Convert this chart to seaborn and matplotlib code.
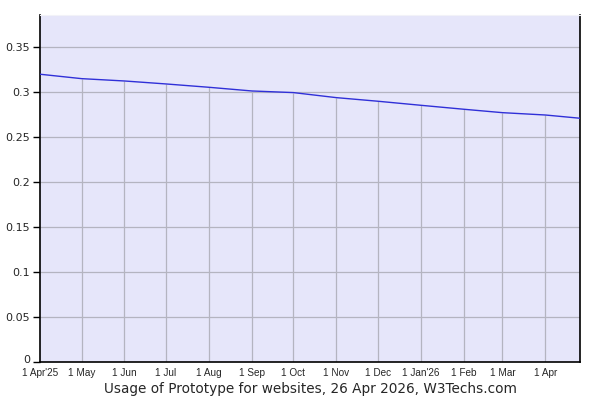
import matplotlib
matplotlib.use("Agg")
import matplotlib.pyplot as plt
import matplotlib.ticker as mticker
import matplotlib.transforms as mtransforms
import pandas as pd
import seaborn as sns

# data (monthly points + last day)
dates = ["2025-04-01", "2025-05-01", "2025-06-01", "2025-07-01", "2025-08-01",
         "2025-09-01", "2025-10-01", "2025-11-01", "2025-12-01", "2026-01-01",
         "2026-02-01", "2026-03-01", "2026-04-01", "2026-04-26"]
usage = [0.3197, 0.3148, 0.3122, 0.3089, 0.3052, 0.3011, 0.2993, 0.2937,
         0.2897, 0.2852, 0.2808, 0.2770, 0.2744, 0.2708]

tick_dates = dates[:-1]
tick_labels = ["1 Apr'25", "1 May", "1 Jun", "1 Jul", "1 Aug", "1 Sep", "1 Oct",
               "1 Nov", "1 Dec", "1 Jan'26", "1 Feb", "1 Mar", "1 Apr"]
y_ticks = [0, 0.05, 0.1, 0.15, 0.2, 0.25, 0.3, 0.35]

df = pd.DataFrame({"date": pd.to_datetime(dates), "usage": usage})

sns.set_style("white")
plt.rcParams["font.family"] = ["DejaVu Sans"]

fig = plt.figure(figsize=(6, 4), dpi=100)
ax = fig.add_axes([40 / 600, 1 - 362 / 400, 540 / 600, 347 / 400])
ax.set_facecolor("#e6e6fa")

# horizontal grid across the whole plot
for v in y_ticks[1:]:
    ax.axhline(v, color="#b4b4c0", lw=0.9, zorder=1)
# vertical grid only reaches up to the curve
ax.vlines(df["date"].iloc[1:-1], 0, df["usage"].iloc[1:-1],
          color="#b4b4c0", lw=0.9, zorder=1)

sns.lineplot(data=df, x="date", y="usage", color="#3030d8", lw=1.0, ax=ax, zorder=3)

ax.set_xlim(pd.Timestamp(dates[0]), pd.Timestamp(dates[-1]))
ax.set_ylim(0, 0.3855)
ax.set_yticks(y_ticks)
ax.yaxis.set_major_formatter(mticker.FormatStrFormatter("%g"))
ax.set_xticks(pd.to_datetime(tick_dates))
ax.set_xticklabels(tick_labels, fontsize=7.2, family="Liberation Sans")
ax.tick_params(axis="x", length=0, pad=4)
ax.tick_params(axis="y", length=5, direction="out", width=1, color="black",
               labelsize=8, pad=2, left=True)

# the "0" label sits a little higher in the reference
fig.canvas.draw()
zero_lbl = ax.get_yticklabels()[0]
zero_lbl.set_transform(zero_lbl.get_transform() +
                       mtransforms.ScaledTranslation(0, 3 / 100, fig.dpi_scale_trans))

for side in ["left", "bottom", "right"]:
    ax.spines[side].set_color("black")
    ax.spines[side].set_linewidth(1.2)
ax.spines["top"].set_color("#f2f2f8")

ax.set_xlabel("Usage of Prototype for websites, 26 Apr 2026, W3Techs.com",
              fontsize=9.8, labelpad=3)
ax.set_ylabel("")

fig.savefig("out.png", dpi=100)
